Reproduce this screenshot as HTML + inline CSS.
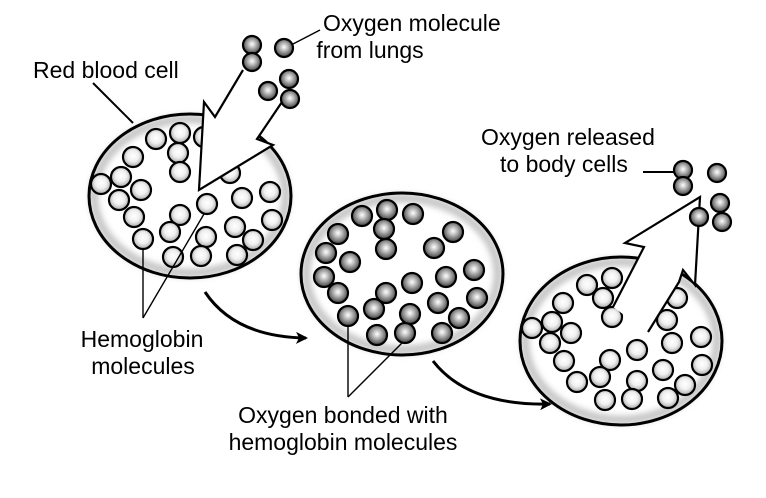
<!DOCTYPE html>
<html><head><meta charset="utf-8"><style>
html,body{margin:0;padding:0;background:#fff;}
svg{display:block}
text{font-family:"Liberation Sans",Arial,sans-serif;font-size:23px;fill:#000}
</style></head><body>
<svg width="766" height="498" viewBox="0 0 766 498" xmlns="http://www.w3.org/2000/svg">
<defs>
<filter id="bl" x="-10%" y="-10%" width="120%" height="120%"><feGaussianBlur stdDeviation="3"/></filter>
<radialGradient id="lt" cx="50%" cy="45%" r="55%">
<stop offset="0" stop-color="#fff"/><stop offset="0.5" stop-color="#f0f0f0"/><stop offset="1" stop-color="#a8a8a8"/></radialGradient>
<radialGradient id="dk" cx="50%" cy="45%" r="55%">
<stop offset="0" stop-color="#fff"/><stop offset="0.35" stop-color="#c0c0c0"/><stop offset="1" stop-color="#404040"/></radialGradient>
<marker id="ah" markerWidth="12" markerHeight="12" refX="10" refY="6" orient="auto" markerUnits="userSpaceOnUse">
<path d="M0,0 L12,6 L0,12 L3,6 Z" fill="#000"/></marker>
</defs>
<g fill="#fff" stroke="none">
<ellipse cx="190" cy="196" rx="101" ry="82"/>
<ellipse cx="402" cy="274" rx="101" ry="81"/>
<ellipse cx="621" cy="341" rx="101" ry="84"/>
</g>
<g fill="none" stroke="#c8c8c8" stroke-width="9" filter="url(#bl)">
<ellipse cx="190" cy="196" rx="96" ry="77"/>
<ellipse cx="402" cy="274" rx="96" ry="76"/>
<ellipse cx="621" cy="341" rx="96" ry="79"/>
</g>
<g stroke="#000" stroke-width="3" fill="none">
<ellipse cx="190" cy="196" rx="101" ry="82"/>
<ellipse cx="402" cy="274" rx="101" ry="81"/>
<ellipse cx="621" cy="341" rx="101" ry="84"/>
</g>
<g stroke="#000" stroke-width="2.2" fill="url(#lt)">
<circle cx="156" cy="139" r="10"/><circle cx="180" cy="133" r="10"/><circle cx="204" cy="137" r="10"/>
<circle cx="178" cy="153" r="10"/><circle cx="180" cy="172" r="10"/><circle cx="133" cy="157" r="10"/>
<circle cx="121" cy="177" r="10"/><circle cx="101" cy="184" r="10"/><circle cx="141" cy="190" r="10"/>
<circle cx="119" cy="200" r="10"/><circle cx="134" cy="217" r="10"/><circle cx="143" cy="239" r="10"/>
<circle cx="180" cy="215" r="10"/><circle cx="170" cy="232" r="10"/><circle cx="173" cy="257" r="10"/>
<circle cx="207" cy="204" r="10"/><circle cx="206" cy="237" r="10"/><circle cx="201" cy="256" r="10"/>
<circle cx="230" cy="173" r="10"/><circle cx="242" cy="198" r="10"/><circle cx="270" cy="192" r="10"/>
<circle cx="235" cy="227" r="10"/><circle cx="253" cy="240" r="10"/><circle cx="272" cy="220" r="10"/>
<circle cx="237" cy="255" r="10"/>
<circle cx="587" cy="285" r="10"/><circle cx="612" cy="278" r="10"/><circle cx="603" cy="298" r="10"/>
<circle cx="612" cy="317" r="10"/><circle cx="563" cy="303" r="10"/><circle cx="552" cy="322" r="10"/>
<circle cx="532" cy="328" r="10"/><circle cx="571" cy="333" r="10"/><circle cx="550" cy="343" r="10"/>
<circle cx="564" cy="361" r="10"/><circle cx="577" cy="382" r="10"/><circle cx="610" cy="360" r="10"/>
<circle cx="600" cy="377" r="10"/><circle cx="605" cy="400" r="10"/><circle cx="637" cy="350" r="10"/>
<circle cx="637" cy="381" r="10"/><circle cx="632" cy="399" r="10"/><circle cx="677" cy="298" r="10"/>
<circle cx="667" cy="320" r="10"/><circle cx="672" cy="343" r="10"/><circle cx="701" cy="337" r="10"/>
<circle cx="663" cy="370" r="10"/><circle cx="685" cy="385" r="10"/><circle cx="702" cy="365" r="10"/>
<circle cx="668" cy="398" r="10"/>
</g>
<g stroke="#000" stroke-width="2.2" fill="url(#dk)">
<circle cx="362" cy="216" r="10"/><circle cx="387" cy="210" r="10"/><circle cx="413" cy="214" r="10"/>
<circle cx="384" cy="229" r="10"/><circle cx="386" cy="249" r="10"/><circle cx="338" cy="234" r="10"/>
<circle cx="326" cy="253" r="10"/><circle cx="350" cy="262" r="10"/><circle cx="324" cy="277" r="10"/>
<circle cx="338" cy="293" r="10"/><circle cx="348" cy="316" r="10"/><circle cx="386" cy="293" r="10"/>
<circle cx="374" cy="309" r="10"/><circle cx="377" cy="335" r="10"/><circle cx="412" cy="283" r="10"/>
<circle cx="410" cy="314" r="10"/><circle cx="405" cy="333" r="10"/><circle cx="434" cy="248" r="10"/>
<circle cx="453" cy="232" r="10"/><circle cx="446" cy="277" r="10"/><circle cx="474" cy="270" r="10"/>
<circle cx="438" cy="303" r="10"/><circle cx="477" cy="298" r="10"/><circle cx="459" cy="318" r="10"/>
<circle cx="442" cy="333" r="10"/>
</g>
<polygon points="243,70 215,117 204,102 199,190 273,145 257,139 284,99" fill="#fff" stroke="none"/>
<polyline points="243,70 215,117 204,102 199,190 273,145 257,139 284,99" fill="none" stroke="#000" stroke-width="2.2"/>
<polygon points="613,307 644,247 625,243 700,197 695,285 683,270 679,282 648,332" fill="#fff" stroke="none"/>
<polyline points="613,307 644,247 625,243 700,197 695,285 683,270 679,282 648,332" fill="none" stroke="#000" stroke-width="2.2"/>
<g stroke="#000" stroke-width="2.2" fill="url(#dk)">
<circle cx="252" cy="45" r="9"/><circle cx="252" cy="62" r="9"/><circle cx="284" cy="48" r="9"/>
<circle cx="289" cy="79" r="9"/><circle cx="268" cy="91" r="9"/><circle cx="290" cy="99" r="9"/>
<circle cx="683" cy="170" r="9"/><circle cx="683" cy="186" r="9"/><circle cx="717" cy="173" r="9"/>
<circle cx="720" cy="203" r="9"/><circle cx="722" cy="222" r="9"/><circle cx="699" cy="217" r="9"/>
</g>
<g stroke="#000" stroke-width="1.4" fill="none">
<line x1="93" y1="83" x2="133" y2="123" stroke-width="2"/>
<line x1="293" y1="44" x2="320" y2="30"/>
<line x1="143" y1="249" x2="143" y2="318"/>
<line x1="204" y1="214" x2="143" y2="318"/>
<line x1="348" y1="326" x2="348" y2="397"/>
<line x1="402" y1="343" x2="348" y2="397"/>
<line x1="643" y1="172" x2="674" y2="172" stroke-width="2"/>
<path d="M205,292 Q235,337 306,338" stroke-width="3" marker-end="url(#ah)"/>
<path d="M433,361 Q468,406 550,404" stroke-width="3" marker-end="url(#ah)"/>
</g>
<text x="33" y="78">Red blood cell</text>
<text x="323" y="31">Oxygen molecule</text>
<text x="370" y="58" text-anchor="middle">from lungs</text>
<text x="481" y="145">Oxygen released</text>
<text x="500" y="172">to body cells</text>
<text x="142" y="347" text-anchor="middle">Hemoglobin</text>
<text x="143" y="374" text-anchor="middle">molecules</text>
<text x="343" y="423" text-anchor="middle">Oxygen bonded with</text>
<text x="343" y="450" text-anchor="middle">hemoglobin molecules</text>
</svg>
</body></html>
